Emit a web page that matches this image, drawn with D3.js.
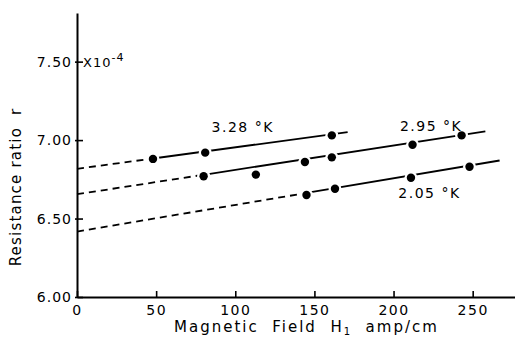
<!DOCTYPE html>
<html>
  <head>
    <meta charset="utf-8">
    <script src="https://d3js.org/d3.v7.min.js"></script>
    <style>
      body { margin: 0; background: #fff; }
      text { font-family: "DejaVu Sans", sans-serif; fill: #000; }
    </style>
  </head>
  <body>
    <div id="chart"></div>
    <script type="text/javascript">

      // values
      var xTicks = [0, 50, 100, 150, 200, 250];
      var yTicks = [6.00, 6.50, 7.00, 7.50];
      var tempLabels = ["3.28 \u00b0K", "2.95 \u00b0K", "2.05 \u00b0K"];

      var fieldT328 = [48, 81, 161];
      var ratioT328 = [6.88, 6.92, 7.03];
      var fieldT295 = [80, 113, 144, 161, 212, 243];
      var ratioT295 = [6.77, 6.78, 6.86, 6.89, 6.97, 7.03];
      var fieldT205 = [145, 163, 211, 248];
      var ratioT205 = [6.65, 6.69, 6.76, 6.83];

      // straight fitted lines: value at H=0 and the far end
      var lineStart = [6.817, 6.655, 6.417];
      var lineEndField = [171, 258, 267];
      var lineEndRatio = [7.051, 7.055, 6.870];

      var width = 515, height = 339;

      var svg = d3.select("#chart")
        .append("svg")
        .attr("width", width)
        .attr("height", height);

      var x = d3.scaleLinear().domain([0, 278]).range([77, 517]);
      var y = d3.scaleLinear().domain([6, 7.81]).range([297, 13]);

      // axes
      var xAxis = svg.append("g")
        .attr("transform", "translate(0," + y(6) + ")")
        .call(d3.axisBottom(x).tickValues(xTicks).tickSizeInner(-6).tickSizeOuter(0)
          .tickFormat(function(d) { return d; }));
      xAxis.select(".domain").attr("stroke-width", 2).attr("stroke", "#000");
      xAxis.selectAll(".tick line").attr("stroke-width", 1.6).attr("stroke", "#000");
      xAxis.selectAll(".tick text")
        .attr("y", 8)
        .style("font-size", "14px")
        .style("letter-spacing", "1.5px");

      var yAxis = svg.append("g")
        .attr("transform", "translate(" + x(0) + ",0)")
        .call(d3.axisLeft(y).tickValues(yTicks).tickSizeInner(-6).tickSizeOuter(0)
          .tickFormat(d3.format(".2f")));
      yAxis.select(".domain").attr("stroke-width", 2).attr("stroke", "#000");
      yAxis.selectAll(".tick line").attr("stroke-width", 1.6).attr("stroke", "#000")
        .attr("x1", -2);
      yAxis.selectAll(".tick text")
        .attr("x", -5)
        .style("font-size", "14px")
        .style("letter-spacing", "1px");

      // exponent note next to top tick
      var expo = svg.append("text")
        .attr("x", x(0) + 6)
        .attr("y", y(7.5) + 5)
        .style("font-size", "13px")
        .style("letter-spacing", "1px");
      expo.append("tspan").text("X10");
      expo.append("tspan").attr("dy", -6).style("font-size", "11px").text("-4");

      // axis titles
      var xt = svg.append("text")
        .attr("x", 174)
        .attr("y", 332)
        .style("font-size", "15px")
        .style("letter-spacing", "2px")
        .attr("xml:space", "preserve");
      xt.append("tspan").text("Magnetic  Field  H");
      xt.append("tspan").attr("dy", 3).style("font-size", "10px").text("1");
      xt.append("tspan").attr("dy", -3).text("  amp/cm");

      svg.append("text")
        .attr("transform", "translate(21," + 187 + ") rotate(-90)")
        .attr("text-anchor", "middle")
        .style("font-size", "15px")
        .style("letter-spacing", "1.2px")
        .attr("xml:space", "preserve")
        .text("Resistance ratio  r");

      // series
      var series = [
        {field: fieldT328, ratio: ratioT328},
        {field: fieldT295, ratio: ratioT295},
        {field: fieldT205, ratio: ratioT205}
      ];

      var line = d3.line()
        .x(function(d) { return x(d[0]); })
        .y(function(d) { return y(d[1]); });

      series.forEach(function(s, i) {
        var x0 = 0, y0 = lineStart[i];
        var x1 = lineEndField[i], y1 = lineEndRatio[i];
        var xs = s.field[0];
        var ys = y0 + (y1 - y0) * (xs - x0) / (x1 - x0);

        svg.append("path")
          .attr("d", line([[x0, y0], [xs, ys]]))
          .attr("fill", "none")
          .attr("stroke", "#000")
          .attr("stroke-width", 1.8)
          .attr("stroke-dasharray", "7,5");

        svg.append("path")
          .attr("d", line([[xs, ys], [x1, y1]]))
          .attr("fill", "none")
          .attr("stroke", "#000")
          .attr("stroke-width", 1.8);

        var g = svg.append("g");
        // white halo that breaks the line round each point
        g.selectAll(".halo")
          .data(s.field)
          .enter().append("circle")
          .attr("class", "halo")
          .attr("cx", function(d) { return x(d); })
          .attr("cy", function(d, j) { return y(s.ratio[j]); })
          .attr("r", 6.5)
          .attr("fill", "#fff");
        g.selectAll(".dot")
          .data(s.field)
          .enter().append("circle")
          .attr("class", "dot")
          .attr("cx", function(d) { return x(d); })
          .attr("cy", function(d, j) { return y(s.ratio[j]); })
          .attr("r", 4.2)
          .attr("fill", "#000");
      });

      // temperature labels
      var labelAt = [[85, 7.053], [204, 7.059], [203, 6.634]];
      svg.selectAll(".templabel")
        .data(tempLabels)
        .enter().append("text")
        .attr("class", "templabel")
        .attr("x", function(d, i) { return x(labelAt[i][0]); })
        .attr("y", function(d, i) { return y(labelAt[i][1]); })
        .style("font-size", "14px")
        .style("letter-spacing", "1.5px")
        .attr("xml:space", "preserve")
        .text(function(d) { return d; });

    </script>
  </body>
</html>
